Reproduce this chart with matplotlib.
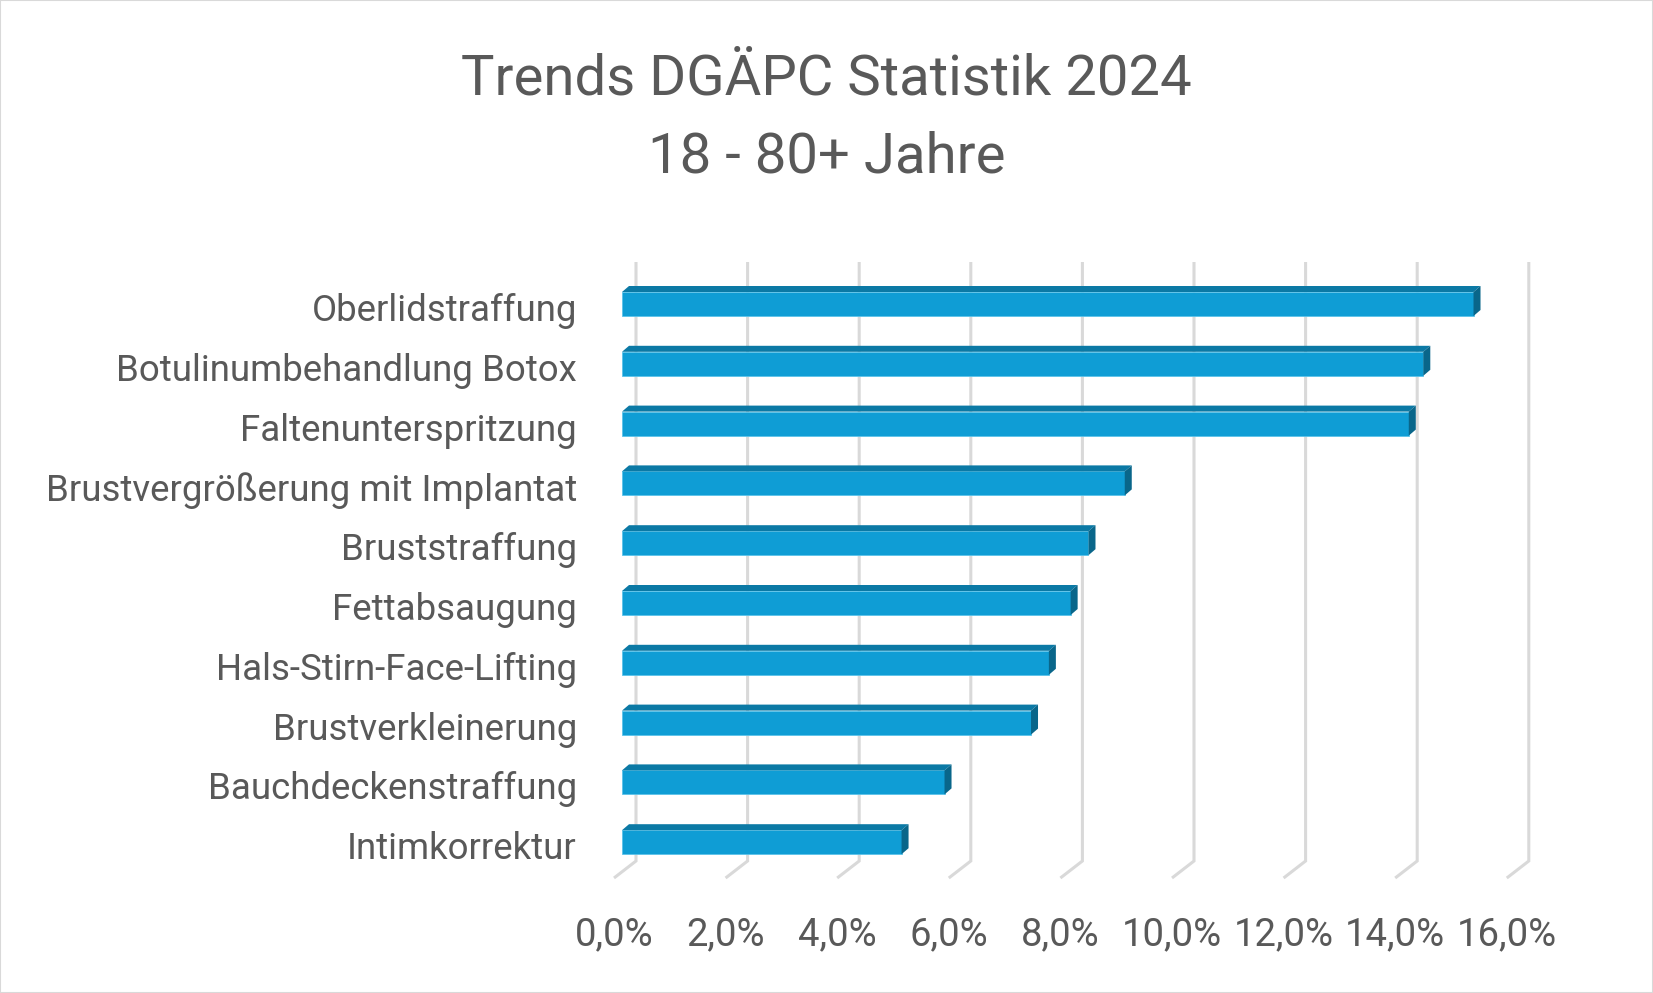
import matplotlib

matplotlib.use("Agg")
import matplotlib.pyplot as plt
from matplotlib.patches import Polygon, Rectangle
from matplotlib.transforms import ScaledTranslation

# Data (share of procedures, %)
categories = [
    "Oberlidstraffung",
    "Botulinumbehandlung Botox",
    "Faltenunterspritzung",
    "Brustvergrößerung mit Implantat",
    "Bruststraffung",
    "Fettabsaugung",
    "Hals-Stirn-Face-Lifting",
    "Brustverkleinerung",
    "Bauchdeckenstraffung",
    "Intimkorrektur",
]
values = [15.26, 14.36, 14.10, 9.01, 8.36, 8.04, 7.65, 7.33, 5.78, 5.01]
ticks = [0, 2, 4, 6, 8, 10, 12, 14, 16]
tick_labels = [f"{t:.1f}%".replace(".", ",") for t in ticks]

TITLE = "Trends DGÄPC Statistik 2024\n18 - 80+ Jahre"

FRONT = "#0F9DD5"
TOP = "#0B79A5"
SIDE = "#09668A"
GRID = "#D9D9D9"
TEXT = "#595959"

W, H, DPI = 1653, 993, 100
PX_PCT = 55.8   # pixels per 1 %
PX_CAT = 59.8   # pixels per category row
X0_PX = 622     # pixel of 0 % on bar front face
Y0_PX = 304     # pixel (from top) of first bar centre

plt.rcParams["font.family"] = ["Roboto", "DejaVu Sans"]

fig = plt.figure(figsize=(W / DPI, H / DPI), dpi=DPI)
fig.patch.set_facecolor("white")

xlim = (-(X0_PX - 577) / PX_PCT, 17)
ylim = (10, -1)
left_px = X0_PX + xlim[0] * PX_PCT
right_px = X0_PX + xlim[1] * PX_PCT
top_px = Y0_PX + ylim[1] * PX_CAT
bot_px = Y0_PX + ylim[0] * PX_CAT
ax = fig.add_axes([left_px / W, 1 - bot_px / H, (right_px - left_px) / W, (bot_px - top_px) / H])
ax.set_xlim(*xlim)
ax.set_ylim(*ylim)
for s in ax.spines.values():
    s.set_visible(False)
ax.set_facecolor("none")

# 3D-ish back wall gridlines with floor slant
back_dx = 14 / PX_PCT
floor_dx = -8 / PX_PCT
g_top = (262 - Y0_PX) / PX_CAT
g_bot = (861 - Y0_PX) / PX_CAT
g_front = (878 - Y0_PX) / PX_CAT
for t in ticks:
    ax.plot([t + back_dx, t + back_dx, t + floor_dx], [g_top, g_bot, g_front],
            color=GRID, lw=2.2, solid_capstyle="butt", solid_joinstyle="miter",
            zorder=1, clip_on=False)

# bars: front face + top + side
bh = 24 / PX_CAT
dx = 7 / PX_PCT
dy = 6 / PX_CAT
ys = list(range(len(categories)))
ax.barh(ys, values, height=bh, color=FRONT, edgecolor="#5BC3EA", linewidth=0.6, zorder=3)
for y, v in zip(ys, values):
    yt = y - bh / 2
    yb = y + bh / 2
    ax.add_patch(Polygon([(0, yt), (v, yt), (v + dx, yt - dy), (dx, yt - dy)],
                         closed=True, facecolor=TOP, edgecolor="none", zorder=3))
    ax.add_patch(Polygon([(v, yt), (v + dx, yt - dy), (v + dx, yb - dy), (v, yb)],
                         closed=True, facecolor=SIDE, edgecolor="none", zorder=3))

ax.set_yticks(ys, categories)
ax.set_xticks(ticks, tick_labels)
ax.tick_params(axis="y", length=0, pad=0, labelsize=26.4, labelcolor=TEXT)
ax.tick_params(axis="x", length=0, pad=10, labelsize=27.5, labelcolor=TEXT)
shift = ScaledTranslation(-8 / DPI, 0, fig.dpi_scale_trans)
for lbl in ax.get_xticklabels():
    lbl.set_transform(lbl.get_transform() + shift)
yshift = ScaledTranslation(0, -3 / DPI, fig.dpi_scale_trans)
for lbl in ax.get_yticklabels():
    lbl.set_transform(lbl.get_transform() + yshift)

fig.text(0.5, 1 - 118 / H, TITLE, ha="center", va="center", fontsize=40.5,
         color=TEXT, linespacing=1.6)

fig.patches.append(Rectangle((0, 0), 1, 1, transform=fig.transFigure, fill=False,
                             edgecolor=GRID, linewidth=1.5))

fig.savefig("out.png", dpi=DPI)
